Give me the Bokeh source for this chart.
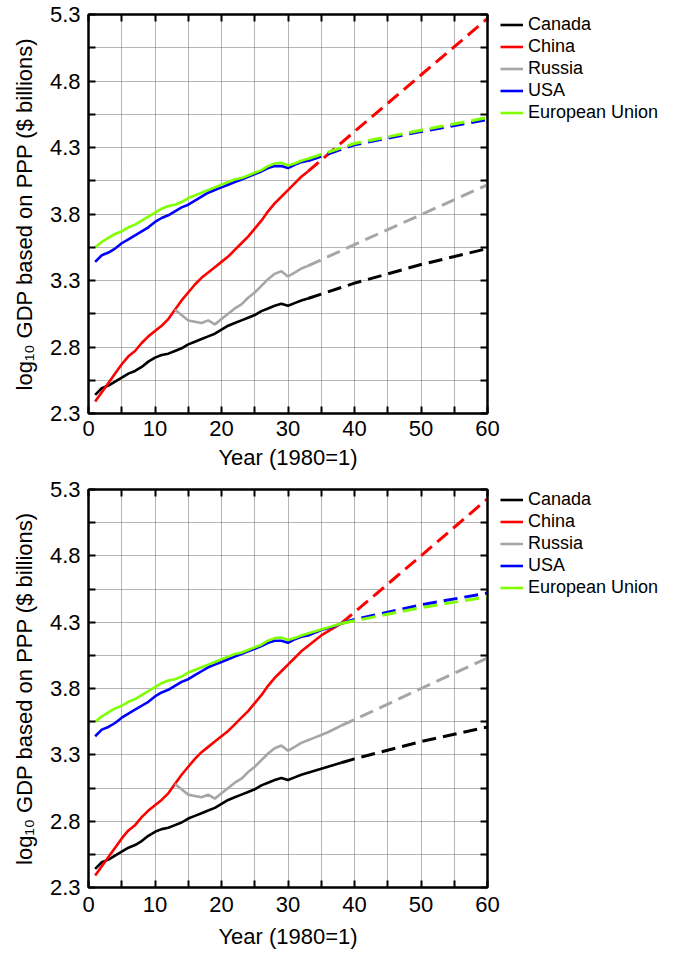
from bokeh.plotting import figure
from bokeh.models import Range1d, FixedTicker, LinearAxis, Legend, LegendItem
from bokeh.layouts import column, row
from bokeh.embed import file_html
from bokeh.resources import INLINE

FONT = "Liberation Sans"

# ---------------- data ----------------
series_names = ["Canada", "China", "Russia", "USA", "European Union"]
series_colors = ["#000000", "#ff0000", "#a6a6a6", "#0000ff", "#7fff00"]

years_hist = list(range(1, 39))
canada_hist = [2.44, 2.49, 2.51, 2.54, 2.57, 2.60, 2.62, 2.65, 2.69, 2.72,
               2.74, 2.75, 2.77, 2.79, 2.82, 2.84, 2.86, 2.88, 2.90, 2.93,
               2.96, 2.98, 3.00, 3.02, 3.04, 3.07, 3.09, 3.11, 3.125, 3.11,
               3.13, 3.15, 3.165, 3.18, 3.195, 3.21, 3.225, 3.24]
china_hist = [2.39, 2.46, 2.53, 2.60, 2.67, 2.73, 2.77, 2.83, 2.88, 2.92,
              2.96, 3.01, 3.08, 3.15, 3.21, 3.27, 3.32, 3.36, 3.40, 3.44,
              3.48, 3.53, 3.58, 3.63, 3.69, 3.75, 3.82, 3.88, 3.93, 3.98,
              4.03, 4.08, 4.12, 4.16, 4.20, 4.23, 4.26, 4.29]
russia_years = list(range(13, 39))
russia_hist = [3.08, 3.04, 3.00, 2.99, 2.98, 3.00, 2.97, 3.01, 3.05, 3.09,
               3.12, 3.17, 3.21, 3.26, 3.31, 3.35, 3.37, 3.33, 3.36, 3.39,
               3.41, 3.43, 3.45, 3.47, 3.495, 3.52]
usa_hist = [3.44, 3.49, 3.51, 3.54, 3.58, 3.61, 3.64, 3.67, 3.70, 3.74,
            3.77, 3.79, 3.82, 3.85, 3.87, 3.90, 3.93, 3.96, 3.98, 4.00,
            4.02, 4.04, 4.06, 4.08, 4.10, 4.12, 4.145, 4.16, 4.16, 4.145,
            4.17, 4.19, 4.20, 4.22, 4.24, 4.255, 4.27, 4.29]
eu_hist = [3.55, 3.59, 3.62, 3.65, 3.67, 3.70, 3.72, 3.75, 3.78, 3.81,
           3.84, 3.86, 3.87, 3.89, 3.92, 3.94, 3.96, 3.98, 4.00, 4.02,
           4.04, 4.06, 4.07, 4.09, 4.11, 4.13, 4.16, 4.18, 4.185, 4.165,
           4.18, 4.20, 4.215, 4.23, 4.245, 4.26, 4.275, 4.29]

# top panel: data through year 33, projections afterwards
top_end_year = 33
proj_years_top = [33, 40, 50, 60]
canada_proj_top = [3.165, 3.28, 3.42, 3.54]
china_proj_top = [4.12, 4.42, 4.845, 5.27]
russia_proj_top = [3.41, 3.57, 3.795, 4.02]
usa_proj_top = [4.20, 4.32, 4.42, 4.51]
eu_proj_top = [4.215, 4.33, 4.43, 4.525]

# bottom panel: data through year 38, projections afterwards
bottom_end_year = 38
proj_years_bottom = [38, 40, 50, 60]
canada_proj_bottom = [3.24, 3.27, 3.40, 3.51]
china_proj_bottom = [4.29, 4.375, 4.80, 5.23]
russia_proj_bottom = [3.52, 3.565, 3.80, 4.03]
usa_proj_bottom = [4.29, 4.32, 4.43, 4.52]
eu_proj_bottom = [4.29, 4.31, 4.41, 4.49]

x_ticks = list(range(0, 61, 5))
x_tick_labels = ["0", "", "10", "", "20", "", "30", "", "40", "", "50", "", "60"]
y_ticks = [round(2.3 + 0.25 * i, 2) for i in range(13)]
y_tick_labels = ["2.3", "", "2.8", "", "3.3", "", "3.8", "", "4.3", "", "4.8", "", "5.3"]


def style_axis(ax, overrides, show):
    ax.axis_line_width = 2
    ax.axis_line_color = "black"
    ax.major_tick_in = 7
    ax.major_tick_out = 0
    ax.major_tick_line_width = 2
    ax.major_tick_line_color = "black"
    ax.minor_tick_line_color = None
    ax.major_label_overrides = overrides
    ax.major_label_text_font = FONT
    if show:
        ax.major_label_text_font_size = "22px"
        ax.major_label_text_color = "black"
        ax.major_label_standoff = 8
    else:
        ax.major_label_text_font_size = "1px"
        ax.major_label_text_color = None
        ax.major_label_standoff = 0


def make_panel(end_year, proj_years, projs, top_border, bottom_border, frame_h,
               tick_standoff, label_standoff):
    p = figure(frame_width=399, frame_height=frame_h,
               x_range=Range1d(0, 60), y_range=Range1d(2.3, 5.3),
               output_backend="svg", toolbar_location=None,
               min_border_left=88, min_border_right=13,
               min_border_top=top_border, min_border_bottom=bottom_border,
               x_axis_label="Year (1980=1)",
               y_axis_label="log\u2081\u2080 GDP based on PPP ($ billions)")
    p.outline_line_color = "black"
    p.outline_line_width = 2
    xt = FixedTicker(ticks=x_ticks)
    yt = FixedTicker(ticks=y_ticks)
    p.xaxis.ticker = xt
    p.yaxis.ticker = yt
    style_axis(p.xaxis[0], dict(zip(x_ticks, x_tick_labels)), True)
    style_axis(p.yaxis[0], dict(zip(y_ticks, y_tick_labels)), True)
    for ax in (p.xaxis[0], p.yaxis[0]):
        ax.axis_label_text_font = FONT
        ax.axis_label_text_font_size = "22px"
        ax.axis_label_text_font_style = "normal"
        ax.axis_label_text_color = "black"
    p.xaxis[0].major_label_standoff = tick_standoff
    p.xaxis[0].axis_label_standoff = label_standoff
    p.yaxis[0].axis_label_standoff = 10

    top_ax = LinearAxis(ticker=xt)
    style_axis(top_ax, {t: "" for t in x_ticks}, False)
    p.add_layout(top_ax, "above")
    right_ax = LinearAxis(ticker=yt)
    style_axis(right_ax, {t: "" for t in y_ticks}, False)
    p.add_layout(right_ax, "right")

    p.grid.grid_line_color = "#6a6a6a"
    p.grid.grid_line_dash = "1 1"
    p.grid.grid_line_width = 1

    n = end_year
    hist = [
        (years_hist[:n], canada_hist[:n]),
        (years_hist[:n], china_hist[:n]),
        (russia_years[:n - 12], russia_hist[:n - 12]),
        (years_hist[:n], usa_hist[:n]),
        (years_hist[:n], eu_hist[:n]),
    ]
    for (xs, ys), proj, col in zip(hist, projs, series_colors):
        p.line(xs, ys, line_color=col, line_width=2.6)
        p.line(proj_years, proj, line_color=col, line_width=3, line_dash="14 7")

    # legend lives in its own narrow figure to the right of the plot
    lf = figure(width=177, height=top_border + frame_h + bottom_border,
                x_range=Range1d(0, 1), y_range=Range1d(0, 1),
                x_axis_type=None, y_axis_type=None,
                output_backend="svg", toolbar_location=None,
                min_border_left=0, min_border_top=top_border,
                min_border_right=0, min_border_bottom=0)
    lf.outline_line_color = None
    lf.grid.visible = False
    items = []
    nan = float("nan")
    for name, col in zip(series_names, series_colors):
        r = lf.line([nan], [nan], line_color=col, line_width=2.6)
        items.append(LegendItem(label=name, renderers=[r]))
    legend = Legend(items=items, location="top_left", orientation="vertical",
                    border_line_color=None, background_fill_alpha=0,
                    label_text_font=FONT, label_text_font_size="18px",
                    label_text_color="black",
                    glyph_width=23, glyph_height=21, label_height=21,
                    spacing=1, padding=0, margin=0, label_standoff=5)
    lf.add_layout(legend, "center")
    return row(p, lf, spacing=0)


r1 = make_panel(top_end_year, proj_years_top,
                [canada_proj_top, china_proj_top, russia_proj_top, usa_proj_top, eu_proj_top],
                14, 63, 399, 7, 6)
r2 = make_panel(bottom_end_year, proj_years_bottom,
                [canada_proj_bottom, china_proj_bottom, russia_proj_bottom, usa_proj_bottom, eu_proj_bottom],
                13, 68, 398, 9, 9)

layout = column(r1, r2, spacing=0)
open("out.html", "w").write(file_html(layout, INLINE))
